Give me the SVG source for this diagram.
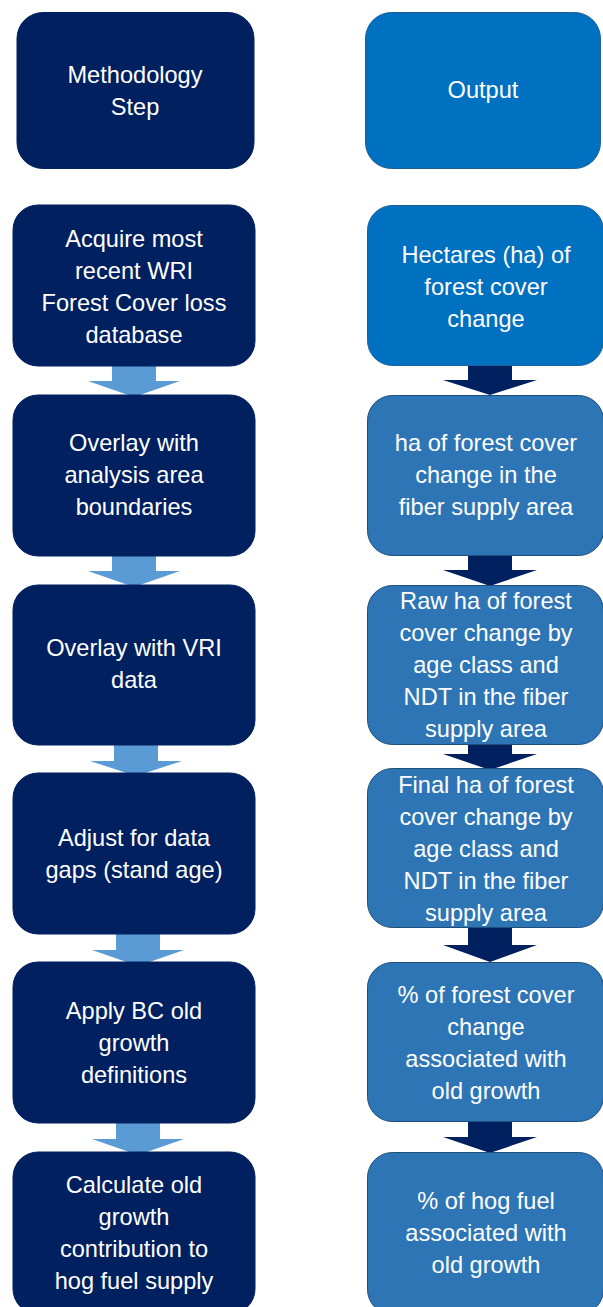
<svg xmlns="http://www.w3.org/2000/svg" width="603" height="1307" viewBox="0 0 603 1307">
<style>
.step{fill:#002060;stroke:#002060;stroke-width:1}
.out1{fill:#0070C0;stroke:#1F5F96;stroke-width:1}
.out{fill:#2E75B6;stroke:#1F4E79;stroke-width:1}
.la{fill:#5B9BD5}
.ra{fill:#002060}
text{font-family:"Liberation Sans",Arial,sans-serif;font-size:23.6px;fill:#ffffff;text-anchor:middle}
</style>
<rect width="603" height="1307" fill="#ffffff"/>
<g id="connectors">
<path class="la" d="M112,365H156V381H180L134,397L88,381H112Z"/>
<path class="la" d="M112,555H156V571H180L134,587L88,571H112Z"/>
<path class="la" d="M114,744H158V761H182L136,776L90,761H114Z"/>
<path class="la" d="M116,933H160V950H184L138,966L92,950H116Z"/>
<path class="la" d="M116,1122H160V1139H184L138,1155L92,1139H116Z"/>
<path class="ra" d="M468,365H512V380H537L490,395L443,380H468Z"/>
<path class="ra" d="M468,555H512V570H537L490,586L443,570H468Z"/>
<path class="ra" d="M468,743H512V754H537L490,770L443,754H468Z"/>
<path class="ra" d="M468,927H512V945H537L490,962L443,945H468Z"/>
<path class="ra" d="M468,1121H512V1137H537L490,1153L443,1137H468Z"/>
</g>
<g id="hdr-step"><rect class="step" x="17" y="12.5" width="237" height="156" rx="26"/>
<text x="135" y="83">Methodology</text><text x="135" y="115">Step</text></g>
<g id="hdr-output"><rect class="out1" x="365.5" y="12.5" width="235" height="156" rx="26"/>
<text x="483" y="98">Output</text></g>
<g id="s1"><rect class="step" x="13" y="205" width="242" height="161" rx="25"/>
<text x="134" y="247">Acquire most</text><text x="134" y="279">recent WRI</text><text x="134" y="311">Forest Cover loss</text><text x="134" y="343">database</text></g>
<g id="s2"><rect class="step" x="13" y="395" width="242" height="161" rx="25"/>
<text x="134" y="451">Overlay with</text><text x="134" y="483">analysis area</text><text x="134" y="515">boundaries</text></g>
<g id="s3"><rect class="step" x="13" y="585" width="242" height="160" rx="25"/>
<text x="134" y="656">Overlay with VRI</text><text x="134" y="688">data</text></g>
<g id="s4"><rect class="step" x="13" y="773" width="242" height="161" rx="25"/>
<text x="134" y="846">Adjust for data</text><text x="134" y="878">gaps (stand age)</text></g>
<g id="s5"><rect class="step" x="13" y="962" width="242" height="161" rx="25"/>
<text x="134" y="1019">Apply BC old</text><text x="134" y="1051">growth</text><text x="134" y="1083">definitions</text></g>
<g id="s6"><rect class="step" x="13" y="1152" width="242" height="162" rx="25"/>
<text x="134" y="1193">Calculate old</text><text x="134" y="1225">growth</text><text x="134" y="1257">contribution to</text><text x="134" y="1289">hog fuel supply</text></g>
<g id="o1"><rect class="out1" x="367.5" y="205.5" width="236" height="160" rx="25"/>
<text x="486" y="263">Hectares (ha) of</text><text x="486" y="295">forest cover</text><text x="486" y="327">change</text></g>
<g id="o2"><rect class="out" x="367.5" y="395.5" width="236" height="160" rx="25"/>
<text x="486" y="451">ha of forest cover</text><text x="486" y="483">change in the</text><text x="486" y="515">fiber supply area</text></g>
<g id="o3"><rect class="out" x="367.5" y="585.5" width="236" height="159" rx="25"/>
<text x="486" y="609">Raw ha of forest</text><text x="486" y="641">cover change by</text><text x="486" y="673">age class and</text><text x="486" y="705">NDT in the fiber</text><text x="486" y="737">supply area</text></g>
<g id="o4"><rect class="out" x="367.5" y="768.5" width="236" height="159" rx="25"/>
<text x="486" y="793">Final ha of forest</text><text x="486" y="825">cover change by</text><text x="486" y="857">age class and</text><text x="486" y="889">NDT in the fiber</text><text x="486" y="921">supply area</text></g>
<g id="o5"><rect class="out" x="367.5" y="962.5" width="236" height="159" rx="25"/>
<text x="486" y="1003">% of forest cover</text><text x="486" y="1035">change</text><text x="486" y="1067">associated with</text><text x="486" y="1099">old growth</text></g>
<g id="o6"><rect class="out" x="367.5" y="1152.5" width="236" height="162" rx="25"/>
<text x="486" y="1209">% of hog fuel</text><text x="486" y="1241">associated with</text><text x="486" y="1273">old growth</text></g>
</svg>
